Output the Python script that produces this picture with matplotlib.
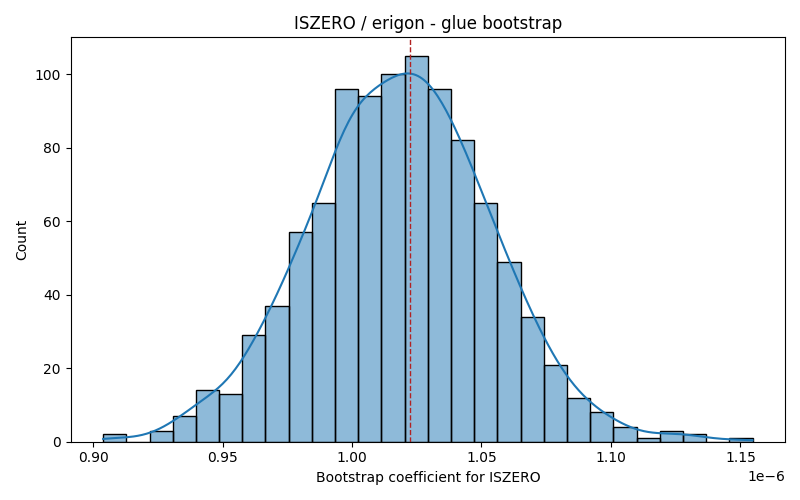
import numpy as np
import matplotlib
matplotlib.use("Agg")
import matplotlib.pyplot as plt

# Histogram (28 bins, values in units of 1e-6)
BIN_START = 0.9039
BIN_WIDTH = 0.008956
COUNTS = [2, 0, 3, 7, 14, 13, 29, 37, 57, 65, 96, 94, 100, 105, 96,
          82, 65, 49, 34, 21, 12, 8, 4, 1, 3, 2, 0, 1]
MEAN_VALUE = 1.0225

counts = np.array(COUNTS, dtype=float)
edges = (BIN_START + BIN_WIDTH * np.arange(len(counts) + 1)) * 1e-6
centers = 0.5 * (edges[:-1] + edges[1:])
width = edges[1] - edges[0]

fig, ax = plt.subplots(figsize=(8, 5), dpi=100)
ax.bar(edges[:-1], counts, width=width, align="edge",
       color="#1f77b4", alpha=0.5, edgecolor="none")
ax.bar(edges[:-1], counts, width=width, align="edge",
       fill=False, edgecolor="black", linewidth=1)

# KDE from binned counts (Scott bandwidth), scaled to counts
n = counts.sum()
mu = np.sum(counts * centers) / n
sd = np.sqrt(np.sum(counts * (centers - mu) ** 2) / n)
bw = sd * n ** (-1 / 5)
xs = np.linspace(edges[0], edges[-1], 300)
dens = np.sum(counts[:, None] * np.exp(-0.5 * ((xs[None, :] - centers[:, None]) / bw) ** 2), axis=0)
dens /= (n * bw * np.sqrt(2 * np.pi))
ax.plot(xs, dens * n * width, color="#1f77b4", lw=1.5)

ax.axvline(MEAN_VALUE * 1e-6, color="#b22222", ls="--", lw=1)

ax.set_ylim(0, 110)
ax.set_xlabel("Bootstrap coefficient for ISZERO")
ax.set_ylabel("Count")
ax.set_title("ISZERO / erigon - glue bootstrap")
fig.tight_layout()
fig.savefig("out.png")
